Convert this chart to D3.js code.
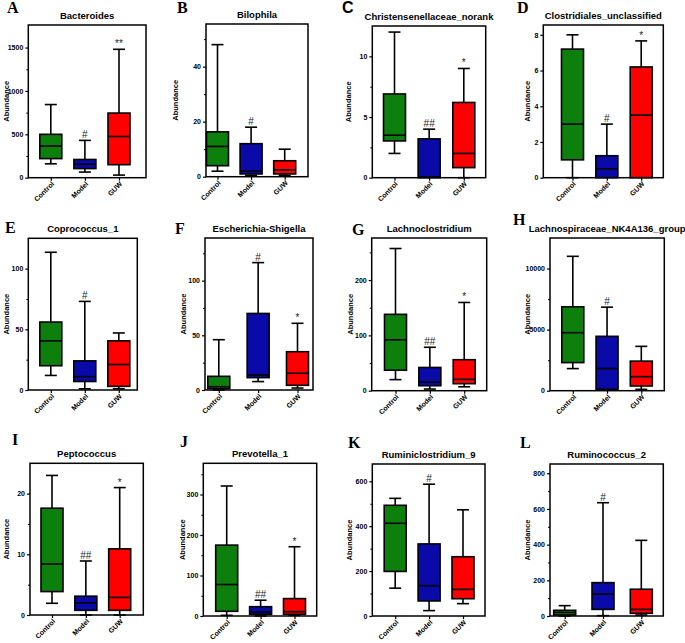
<!DOCTYPE html>
<html>
<head>
<meta charset="utf-8">
<script src="https://d3js.org/d3.v7.min.js"></script>
<style>
  body { margin: 0; background: #fff; }
  text { font-family: "Liberation Sans", Arial, sans-serif; }
</style>
</head>
<body>
<svg width="685" height="643"></svg>
<script>
// groups on every x axis
const groups = ["Control", "Model", "GUW"];
const colors = ["#0d7f0d", "#0a0aa8", "#ff0000"];

const letters = ["A", "B", "C", "D", "E", "F", "G", "H", "I", "J", "K", "L"];
const genera = ["Bacteroides", "Bilophila", "Christensenellaceae_norank", "Clostridiales_unclassified",
  "Coprococcus_1", "Escherichia-Shigella", "Lachnoclostridium", "Lachnospiraceae_NK4A136_group",
  "Peptococcus", "Prevotella_1", "Ruminiclostridium_9", "Ruminococcus_2"];

// box stats per group: [min, q1, median, q3, max]
const bacteroides = [[160, 220, 365, 500, 843], [65, 105, 155, 210, 430], [30, 150, 475, 745, 1480]];
const bilophila = [[2, 4, 11, 16.3, 48], [0.5, 1, 2, 12, 18], [0.5, 1, 2.5, 5.8, 10]];
const christensenellaceae = [[2, 3.03, 3.5, 6.9, 12], [0, 0, 0.05, 3.2, 4], [0, 0.83, 2, 6.2, 9]];
const clostridiales = [[0, 1, 3, 7.2, 8], [0, 0, 0.5, 1.23, 3], [0, 0, 3.5, 6.2, 7.66]];
const coprococcus = [[12, 20, 40.5, 56, 113.5], [1, 7, 11, 24, 73], [1, 3, 21, 40.5, 47]];
const escherichia = [[0, 1.2, 3, 12.5, 46], [7.7, 11.3, 13.8, 70, 116.5], [1.8, 4.3, 15.3, 35, 61]];
const lachnoclostridium = [[20, 37, 92, 138, 257], [3, 9, 16, 42, 78.5], [7, 12.7, 20.5, 56, 159.5]];
const lachnospiraceae = [[1810, 2300, 4750, 6870, 11000], [50, 110, 1810, 4450, 6840], [110, 385, 1150, 2420, 3630]];
const peptococcus = [[1.93, 3.86, 8.4, 17.6, 23], [0, 0.77, 2, 3.1, 8.9], [0, 0.77, 2.9, 10.9, 21]];
const prevotella = [[1.7, 11.6, 77.7, 175, 321], [0, 4, 10, 23, 39], [1.7, 4, 10.7, 43, 171]];
const ruminiclostridium = [[124, 198.5, 413, 493, 524], [24, 67, 135, 321, 587], [55, 77, 118.5, 264, 473]];
const ruminococcus = [[0, 5.6, 20, 32, 58], [2, 37, 123, 187, 635], [5.6, 15, 37, 150, 424]];

const stats = [bacteroides, bilophila, christensenellaceae, clostridiales, coprococcus, escherichia,
  lachnoclostridium, lachnospiraceae, peptococcus, prevotella, ruminiclostridium, ruminococcus];

// significance marks above each group
const marks = [["", "#", "**"], ["", "#", ""], ["", "##", "*"], ["", "#", "*"],
  ["", "#", ""], ["", "#", "*"], ["", "##", "*"], ["", "#", ""],
  ["", "##", "*"], ["", "##", "*"], ["", "#", ""], ["", "#", ""]];

// y axes
const yMax = [1760, 55.5, 12.5, 8.55, 125, 139, 276, 12500, 25, 377, 677, 852];
const yTicks = [[0, 500, 1000, 1500], [0, 20, 40], [0, 5, 10], [0, 2, 4, 6, 8], [0, 50, 100], [0, 50, 100],
  [0, 100, 200], [0, 5000, 10000], [0, 10, 20], [0, 100, 200, 300], [0, 200, 400, 600], [0, 200, 400, 600, 800]];
const yMinor = [[250, 750, 1250], [10, 30, 50], [2.5, 7.5], [], [25, 75], [25, 75, 125],
  [50, 150, 250], [2500, 7500], [5, 15], [50, 150, 250, 350], [100, 300, 500], [100, 300, 500, 700]];

// panel layout: frame [left, right, top, bottom], first/last box centre, letter position, y title x
const layout = [
  {f: [28.3, 146, 25, 177.7], c: [50.8, 119], l: [7, 13], t: 6},
  {f: [206, 308, 24, 176.7], c: [217.5, 284.7], l: [177, 13], t: 175},
  {f: [372.3, 485.7, 26, 177.7], c: [394.5, 463.8], l: [342, 13], t: 348},
  {f: [543.3, 663.3, 25, 177.7], c: [572.5, 641.2], l: [517, 13], t: 527},
  {f: [28.3, 137.3, 238.3, 390], c: [50.8, 118.8], l: [5, 233], t: 6},
  {f: [205, 313, 238, 390], c: [218.8, 297.5], l: [175, 234], t: 182.5},
  {f: [371.7, 486.7, 238, 390.7], c: [395.5, 464.2], l: [352, 235], t: 349.5},
  {f: [550, 664.3, 238, 390.7], c: [572.8, 641.3], l: [513, 225], t: 527},
  {f: [30, 143.3, 463.3, 615], c: [52, 119.7], l: [12, 445], t: 6},
  {f: [203.3, 316.7, 463.3, 616], c: [226.7, 294.5], l: [180, 447], t: 182},
  {f: [372.3, 485, 464, 616], c: [395.2, 463], l: [348, 448], t: 348.5},
  {f: [550, 663.3, 464, 616], c: [564.7, 641.3], l: [520, 448], t: 527}
];

const svg = d3.select("svg");
svg.append("rect").attr("width", 685).attr("height", 643).attr("fill", "#fff");

const boxW = 22, capW = 12;

stats.forEach((data, i) => {
  const L = layout[i];
  const [x0, x1, y0, y1] = L.f;
  const g = svg.append("g");

  const y = d3.scaleLinear().domain([0, yMax[i]]).range([y1, y0]);
  const x = d3.scalePoint().domain(groups).range(L.c);

  // panel letter
  g.append("text")
    .attr("x", L.l[0]).attr("y", L.l[1])
    .style("font-family", letters[i] === "C" ? "'Liberation Sans', Arial" : "'Liberation Serif', 'Times New Roman', serif")
    .style("font-weight", "bold")
    .style("font-size", "16px")
    .text(letters[i]);

  // title
  g.append("text")
    .attr("x", (x0 + x1) / 2).attr("y", y0 - 6)
    .attr("text-anchor", "middle")
    .style("font-weight", "bold")
    .style("font-size", "9.5px")
    .text(genera[i]);

  // y title
  g.append("text")
    .attr("transform", `translate(${L.t + 3},${(y0 + y1) / 2}) rotate(-90)`)
    .attr("text-anchor", "middle")
    .style("font-weight", "bold")
    .style("font-size", "7.5px")
    .text("Abundance");

  // whiskers
  data.forEach((s, j) => {
    const cx = x(groups[j]);
    const wh = g.append("g").attr("stroke", "#000").attr("stroke-width", 1.6);
    if (s[1] > s[0]) {
      wh.append("line").attr("x1", cx).attr("x2", cx).attr("y1", y(s[0])).attr("y2", y(s[1]));
      wh.append("line").attr("x1", cx - capW / 2).attr("x2", cx + capW / 2).attr("y1", y(s[0])).attr("y2", y(s[0]));
    }
    wh.append("line").attr("x1", cx).attr("x2", cx).attr("y1", y(s[3])).attr("y2", y(s[4]));
    wh.append("line").attr("x1", cx - capW / 2).attr("x2", cx + capW / 2).attr("y1", y(s[4])).attr("y2", y(s[4]));
  });

  // boxes
  g.selectAll(".box")
    .data(data)
    .enter()
    .append("rect")
    .attr("x", (s, j) => x(groups[j]) - boxW / 2)
    .attr("y", s => y(s[3]))
    .attr("width", boxW)
    .attr("height", s => y(s[1]) - y(s[3]))
    .attr("fill", (s, j) => colors[j])
    .attr("stroke", "#000")
    .attr("stroke-width", 1.6);

  g.selectAll(".med")
    .data(data)
    .enter()
    .append("line")
    .attr("x1", (s, j) => x(groups[j]) - boxW / 2)
    .attr("x2", (s, j) => x(groups[j]) + boxW / 2)
    .attr("y1", s => y(s[2]))
    .attr("y2", s => y(s[2]))
    .attr("stroke", "#000")
    .attr("stroke-width", 1.6);

  // significance marks
  g.selectAll(".sig")
    .data(data)
    .enter()
    .append("text")
    .attr("x", (s, j) => x(groups[j]))
    .attr("y", s => y(s[4]) - 2)
    .attr("text-anchor", "middle")
    .style("font-size", "10px")
    .attr("fill", "#222")
    .text((s, j) => marks[i][j]);

  // frame
  g.append("rect")
    .attr("x", x0).attr("y", y0)
    .attr("width", x1 - x0).attr("height", y1 - y0)
    .attr("fill", "none")
    .attr("stroke", "#000")
    .attr("stroke-width", 1.5);

  // y axis
  const ya = g.append("g")
    .attr("transform", `translate(${x0},0)`)
    .call(d3.axisLeft(y).tickValues(yTicks[i]).tickSize(3).tickPadding(2).tickFormat(d3.format("d")));
  ya.select(".domain").remove();
  ya.selectAll("text").style("font-size", "7px").style("font-weight", "bold").style("font-family", "'Liberation Sans', Arial");
  ya.selectAll("line").attr("stroke-width", 1.2);

  const ym = g.append("g")
    .attr("transform", `translate(${x0},0)`)
    .call(d3.axisLeft(y).tickValues(yMinor[i]).tickSize(2).tickFormat(""));
  ym.select(".domain").remove();
  ym.selectAll("line").attr("stroke-width", 1);

  // x axis
  const xa = g.append("g")
    .attr("transform", `translate(0,${y1})`)
    .call(d3.axisBottom(x).tickSize(3).tickFormat(""));
  xa.select(".domain").remove();
  xa.selectAll("line").attr("stroke-width", 1.2);

  g.selectAll(".xlab")
    .data(groups)
    .enter()
    .append("text")
    .attr("transform", d => `translate(${x(d) + 2},${y1 + 5}) rotate(-45)`)
    .attr("text-anchor", "end")
    .attr("dy", "0.35em")
    .style("font-size", "7px")
    .style("font-weight", "bold")
    .text(d => d);
});
</script>
</body>
</html>
